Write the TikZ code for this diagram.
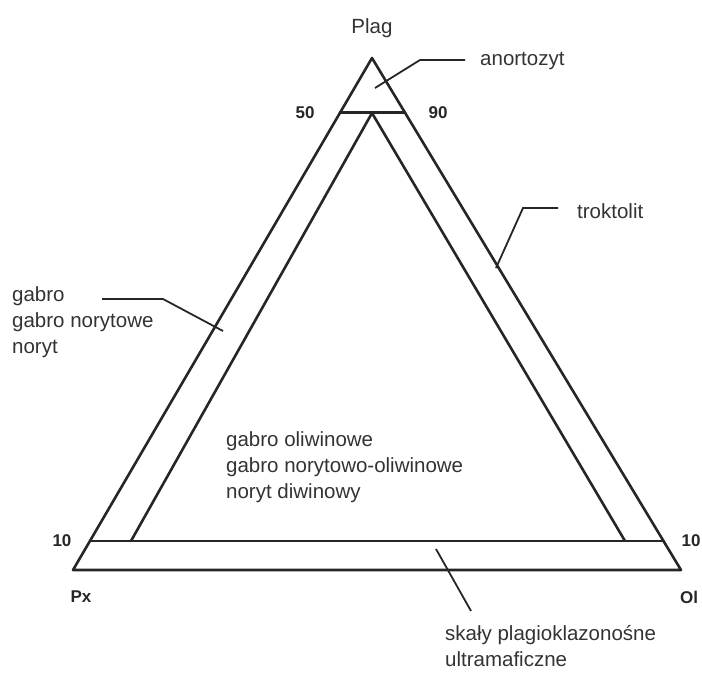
\documentclass[tikz,border=0pt]{standalone}
\usepackage{fontspec}
\setmainfont{Liberation Sans}
\usetikzlibrary{calc}
\begin{document}
\begin{tikzpicture}[x=1pt,y=-1pt,
  edge/.style={line width=2.6pt,line join=round,line cap=round,black!85},
  leader/.style={line width=1.8pt,black!85},
  lbl/.style={font=\fontsize{20.5}{26}\selectfont,text=black!80,inner sep=0pt},
  num/.style={font=\fontsize{17}{20}\selectfont\bfseries,text=black!85,inner sep=0pt},
  block/.style={lbl,align=left,anchor=north west}]
\useasboundingbox (0,0) rectangle (702,673);
% vertices
\coordinate (P) at (372,58);
\coordinate (X) at (73,570);
\coordinate (O) at (681,570);
\coordinate (L10) at ($(P)!0.943!(X)$);
\coordinate (R10) at ($(P)!0.943!(O)$);
\coordinate (L50) at ($(P)!0.107!(X)$);
\coordinate (R90) at ($(P)!0.107!(O)$);
\coordinate (IP) at (372,113);
\coordinate (IL) at (131,541);
\coordinate (IR) at (625,541);
% triangles
\draw[edge] (P) -- (X) -- (O) -- cycle;
\draw[edge] (L10) -- (R10);
\draw[edge] (L50) -- (R90);
\draw[edge] (IL) -- (IP) -- (IR);
% labels
\node[lbl] (plag) at (372,28) {Plag};
\node[num] (n50) at (305,113) {50};
\node[num] (n90) at (438,113) {90};
\node[num] (n10l) at (62,541) {10};
\node[num] (n10r) at (691,541) {10};
\node[num] (px) at (81,597) {Px};
\node[num] (ol) at (689,597) {Ol};
\node[lbl,anchor=west] (anort) at (480,61) {anortozyt};
\node[lbl,anchor=west] (trokt) at (577,211) {troktolit};
\node[block] (gabro) at (12,286) {gabro\\gabro norytowe\\noryt};
\node[block] (oliw) at (226,431) {gabro oliwinowe\\gabro norytowo-oliwinowe\\noryt diwinowy};
\node[block] (skaly) at (445,625) {skały plagioklazonośne\\ultramaficzne};
% leaders
\coordinate (a1) at (375,88);
\coordinate (a2) at (420,60);
\coordinate (a3) at (465,60);
\draw[leader] (a1) -- (a2) -- (a3);
\coordinate (t1) at (496,268);
\coordinate (t2) at (523,208);
\coordinate (t3) at (558,208);
\draw[leader] (t1) -- (t2) -- (t3);
\coordinate (g1) at (102,299);
\coordinate (g2) at (163,299);
\coordinate (g3) at (223,331);
\draw[leader] (g1) -- (g2) -- (g3);
\coordinate (s1) at (436,549);
\coordinate (s2) at (471,611);
\draw[leader] (s1) -- (s2);
\end{tikzpicture}
\end{document}
